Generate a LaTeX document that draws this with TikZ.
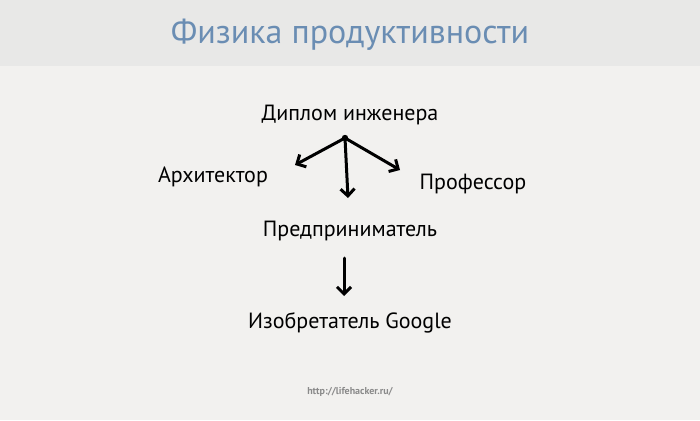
\documentclass[tikz,border=0pt]{standalone}
\usepackage{fontspec}
\setmainfont{PT Sans}
\usetikzlibrary{arrows.meta}
\definecolor{headbg}{HTML}{E8E8E7}
\definecolor{bodybg}{HTML}{F2F1EF}
\definecolor{titleblue}{HTML}{6A8DB3}
\definecolor{urlgray}{HTML}{8A8A8A}
\tikzset{
    career/.style={font=\fontsize{22}{25}\selectfont, inner sep=0pt, anchor=center},
    move/.style={line width=3pt, -{Straight Barb[length=7pt, width=14pt, line width=3pt]}, line cap=round}
}
\begin{document}
\begin{tikzpicture}[x=1pt, y=-1pt]

% Background
\fill[bodybg] (0,0) rectangle (700,420);
\fill[headbg] (0,0) rectangle (700,66);
\useasboundingbox (0,0) rectangle (700,420);

% Title
\node[font=\fontsize{34}{38}\selectfont, text=titleblue] (title) at (350,35) {Физика продуктивности};

% Careers
\node[career] (diploma) at (350,115) {Диплом инженера};
\node[career] (architect) at (213,177) {Архитектор};
\node[career] (professor) at (473,184) {Профессор};
\node[career] (business) at (350,231) {Предприниматель};
\node[career] (inventor) at (350,323) {Изобретатель Google};

% Branch point and arrow tips
\fill (345,138) circle (3.2pt) coordinate (fork);
\coordinate (toarch) at (295,165);
\coordinate (tobiz) at (348,198);
\coordinate (toprof) at (400,170);
\coordinate (fromsbiz) at (344,258);
\coordinate (toinv) at (344,296);

\foreach \tip in {toarch, tobiz, toprof} {
    \draw[move] (fork) -- (\tip);
}
\draw[move] (fromsbiz) -- (toinv);

% Source
\node[font=\bfseries\fontsize{10}{12}\selectfont, text=urlgray] (source) at (350,392) {http://lifehacker.ru/};

\end{tikzpicture}
\end{document}
